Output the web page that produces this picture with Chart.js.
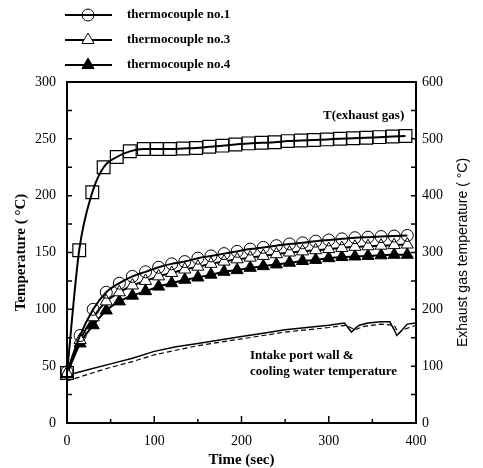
<!DOCTYPE html>
<html>
<head>
<meta charset="utf-8">
<script src="https://cdn.jsdelivr.net/npm/chart.js@4/dist/chart.umd.min.js"></script>
<style>
  html, body { margin: 0; padding: 0; background: #fff; }
  #wrap { width: 483px; height: 468px; }
</style>
</head>
<body>
<div id="wrap"><canvas id="grafico"></canvas></div>
<script>
// thermocouples (left axis, deg C)
var timeTc = [0,15,30,45,60,75,90,105,120,135,150,165,180,195,210,225,240,255,270,285,300,315,330,345,360,375,390];
var tc1 = [45,77,100,115,123,129,133,137,140,142,145,147,149,151,153,154.5,156,157.5,158.5,160,161,162,163,163.5,164,164.5,165];
var tc3 = [44,73,93,107,115,121,125,129,132,135,137.5,140,142,144,145.5,147,148.5,150,151,152,153,154,155,155.5,156,156.5,157];
var tc4 = [43,70,86,99,107,112,116,120,123,126,128,130.5,133,134.5,136.5,138,139.5,141,142.5,143.5,145,146,146.5,147,147.5,148,148];

// exhaust gas (right axis, deg C)
var timeGas = [0,14,29,42,57,72,88,103,118,133,148,163,178,193,208,223,238,253,268,283,298,313,328,343,358,373,388];
var gas = [88,304,406,450,468,478,482,482,482,483,484,486,488,490,492,493,494,496,497,498,499,500,501,502,503,504,505];

// intake port wall / cooling water (left axis)
var timeWall = [0,25,50,75,100,125,150,175,200,225,250,275,300,310,318,322,326,330,335,345,360,370,375,378,382,390,400];
var wall = [42,47,52,57,63,67,70,73,76,79,82,84,86,87,88,84,80,83,86,88,89,89,82,77,80,87,88];
var timeWater = [0,25,50,75,100,125,150,175,200,225,250,275,300,310,320,330,340,360,375,380,385,400];
var water = [37,43,49,54,60,64,68,71,74,77,80,82,84,85,86,82,85,87,86,79,82,86];

var leftTicks = [0,50,100,150,200,250,300];
var rightTicks = [0,100,200,300,400,500,600];
var timeTicks = [0,100,200,300,400];

var serif = '"Liberation Serif", "Times New Roman", serif';

function pares(xs, ys) {
  return xs.map(function(x, i) { return {x: x, y: ys[i]}; });
}

var extras = {
  id: 'extras',
  afterDraw: function(chart) {
    var ctx = chart.ctx;
    var a = chart.chartArea;
    var sx = chart.scales.x, sy = chart.scales.y, sy1 = chart.scales.y1;
    ctx.save();
    ctx.strokeStyle = '#000';
    ctx.fillStyle = '#000';

    // frame
    ctx.lineWidth = 2;
    ctx.strokeRect(a.left, a.top, a.right - a.left, a.bottom - a.top);

    // inward ticks
    ctx.lineWidth = 1.5;
    ctx.beginPath();
    for (var v = 25; v < 300; v += 25) {
      var py = sy.getPixelForValue(v);
      ctx.moveTo(a.left, py); ctx.lineTo(a.left + 5, py);
    }
    for (var w = 50; w < 600; w += 50) {
      var py1 = sy1.getPixelForValue(w);
      ctx.moveTo(a.right, py1); ctx.lineTo(a.right - 5, py1);
    }
    for (var t = 50; t < 400; t += 50) {
      var px = sx.getPixelForValue(t);
      ctx.moveTo(px, a.bottom); ctx.lineTo(px, a.bottom - (t % 100 === 0 ? 7 : 4));
    }
    ctx.stroke();

    // legend
    var filas = [
      {y: 15, txt: 'thermocouple no.1', ds: 1},
      {y: 40, txt: 'thermocouple no.3', ds: 2},
      {y: 65, txt: 'thermocouple no.4', ds: 3}
    ];
    filas.forEach(function(f) {
      var d = chart.data.datasets[f.ds];
      ctx.lineWidth = 2;
      ctx.beginPath();
      ctx.moveTo(65, f.y); ctx.lineTo(112, f.y);
      ctx.stroke();
      ctx.lineWidth = 1;
      ctx.fillStyle = d.pointBackgroundColor;
      ctx.beginPath();
      if (d.pointStyle === 'circle') {
        ctx.arc(88, f.y, d.pointRadius, 0, Math.PI * 2);
      } else {
        var r = d.pointRadius;
        ctx.moveTo(88, f.y - r);
        ctx.lineTo(88 + r * 0.866, f.y + r / 2);
        ctx.lineTo(88 - r * 0.866, f.y + r / 2);
        ctx.closePath();
      }
      ctx.fill();
      ctx.stroke();
      ctx.fillStyle = '#000';
      ctx.font = 'bold 13px ' + serif;
      ctx.textAlign = 'left';
      ctx.textBaseline = 'middle';
      ctx.fillText(f.txt, 127, f.y);
    });

    // annotations
    ctx.font = 'bold 13px ' + serif;
    ctx.textAlign = 'left';
    ctx.textBaseline = 'middle';
    ctx.fillText('T(exhaust gas)', 323, 116);
    ctx.fillText('Intake port wall &', 250, 356);
    ctx.fillText('cooling water temperature', 250, 372);

    // right axis title (reads bottom to top)
    ctx.translate(463, (a.top + a.bottom) / 2);
    ctx.rotate(-Math.PI / 2);
    ctx.font = '14px "Liberation Sans", Arial, sans-serif';
    ctx.textAlign = 'center';
    ctx.fillText('Exhaust gas temperature ( \u00B0C)', 0, 0);
    ctx.restore();
  }
};

new Chart(document.getElementById('grafico'), {
  type: 'line',
  data: {
    datasets: [{
        label: 'T(exhaust gas)',
        data: pares(timeGas, gas),
        yAxisID: 'y1',
        borderColor: '#000',
        borderWidth: 2,
        pointStyle: 'rect',
        pointRadius: 9,
        pointBorderWidth: 1.2,
        pointBorderColor: '#000',
        pointBackgroundColor: 'rgba(0,0,0,0)',
        cubicInterpolationMode: 'monotone',
        clip: false
      }, {
        label: 'thermocouple no.1',
        data: pares(timeTc, tc1),
        yAxisID: 'y',
        borderColor: '#000',
        borderWidth: 2,
        pointStyle: 'circle',
        pointRadius: 6,
        pointBorderWidth: 1,
        pointBorderColor: '#000',
        pointBackgroundColor: 'rgba(255,255,255,0)',
        cubicInterpolationMode: 'monotone',
        clip: false
      }, {
        label: 'thermocouple no.3',
        data: pares(timeTc, tc3),
        yAxisID: 'y',
        borderColor: '#000',
        borderWidth: 2,
        pointStyle: 'triangle',
        pointRadius: 7,
        pointBorderWidth: 1,
        pointBorderColor: '#000',
        pointBackgroundColor: '#fff',
        cubicInterpolationMode: 'monotone',
        clip: false
      }, {
        label: 'thermocouple no.4',
        data: pares(timeTc, tc4),
        yAxisID: 'y',
        borderColor: '#000',
        borderWidth: 2,
        pointStyle: 'triangle',
        pointRadius: 7,
        pointBorderWidth: 1,
        pointBorderColor: '#000',
        pointBackgroundColor: '#000',
        cubicInterpolationMode: 'monotone',
        clip: false
      }, {
        label: 'Intake port wall',
        data: pares(timeWall, wall),
        yAxisID: 'y',
        borderColor: '#000',
        borderWidth: 1.5,
        pointRadius: 0,
        tension: 0,
        clip: false
      }, {
        label: 'Cooling water',
        data: pares(timeWater, water),
        yAxisID: 'y',
        borderColor: '#000',
        borderWidth: 1.2,
        borderDash: [5, 3],
        pointRadius: 0,
        tension: 0,
        clip: false
      }]
  },
  options: {
    responsive: true,
    maintainAspectRatio: false,
    animation: false,
    layout: { padding: { top: 82, left: 0, right: 0, bottom: 0 } },
    plugins: {
      legend: { display: false },
      tooltip: { enabled: false }
    },
    scales: {
      x: {
        type: 'linear',
        min: 0, max: 400,
        afterBuildTicks: function(s) { s.ticks = timeTicks.map(function(v) { return {value: v}; }); },
        afterFit: function(s) { s.height = 45; },
        grid: { display: false, drawTicks: false },
        border: { display: false },
        ticks: { color: '#000', padding: 10, font: { family: serif, size: 14 } },
        title: {
          display: true, text: 'Time (sec)', color: '#000',
          padding: { top: 0, bottom: 0 },
          font: { family: serif, size: 15, weight: 'bold', lineHeight: 1 }
        }
      },
      y: {
        position: 'left',
        min: 0, max: 300,
        afterBuildTicks: function(s) { s.ticks = leftTicks.map(function(v) { return {value: v}; }); },
        afterFit: function(s) { s.width = 67; },
        grid: { display: false, drawTicks: false },
        border: { display: false },
        ticks: { color: '#000', padding: 11, font: { family: serif, size: 14 } },
        title: {
          display: true, text: 'Temperature ( \u00B0C)', color: '#000',
          padding: { top: 14, bottom: 0 },
          font: { family: serif, size: 15, weight: 'bold', lineHeight: 1 }
        }
      },
      y1: {
        position: 'right',
        min: 0, max: 600,
        afterBuildTicks: function(s) { s.ticks = rightTicks.map(function(v) { return {value: v}; }); },
        afterFit: function(s) { s.width = 67; },
        grid: { display: false, drawTicks: false },
        border: { display: false },
        ticks: { color: '#000', padding: 6, font: { family: serif, size: 14 } }
      }
    }
  },
  plugins: [extras]
});
</script>
</body>
</html>
